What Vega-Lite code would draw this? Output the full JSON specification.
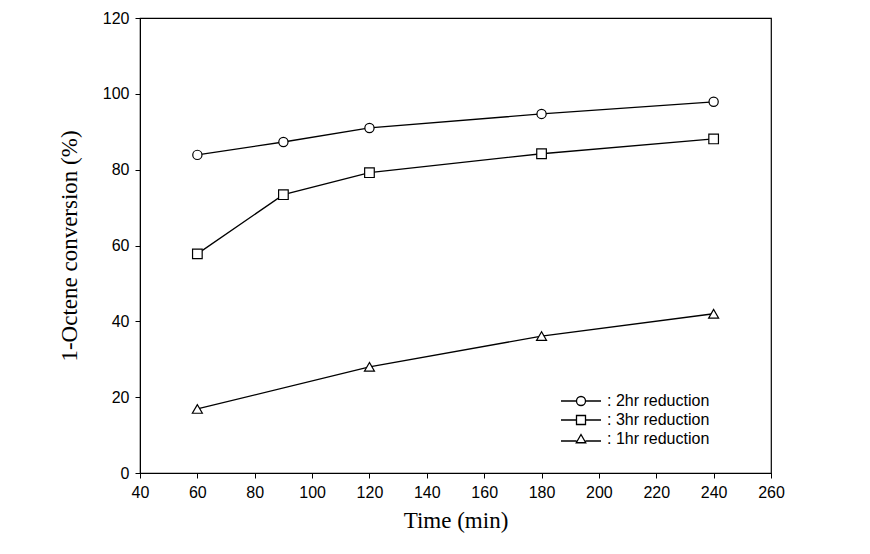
{
  "$schema": "https://vega.github.io/schema/vega-lite/v6.json",
  "width": 631,
  "height": 455,
  "autosize": {"type": "none"},
  "padding": {"left": 140, "top": 18, "right": 99, "bottom": 81},
  "background": "white",
  "config": {
    "view": {"stroke": "black", "strokeWidth": 1.2},
    "axis": {
      "domainColor": "black", "tickColor": "black", "labelColor": "black", "titleColor": "black",
      "labelFont": "Liberation Sans", "labelFontSize": 16, "grid": false, "tickSize": 5,
      "titleFont": "Liberation Serif", "titleFontSize": 23, "titleFontWeight": "normal"
    }
  },
  "data": {
    "values": [
      {"series": "2hr reduction", "time": 60, "conv": 83.9},
      {"series": "2hr reduction", "time": 90, "conv": 87.3},
      {"series": "2hr reduction", "time": 120, "conv": 91.0},
      {"series": "2hr reduction", "time": 180, "conv": 94.7},
      {"series": "2hr reduction", "time": 240, "conv": 97.9},
      {"series": "3hr reduction", "time": 60, "conv": 57.8},
      {"series": "3hr reduction", "time": 90, "conv": 73.4},
      {"series": "3hr reduction", "time": 120, "conv": 79.2},
      {"series": "3hr reduction", "time": 180, "conv": 84.2},
      {"series": "3hr reduction", "time": 240, "conv": 88.1},
      {"series": "1hr reduction", "time": 60, "conv": 16.9},
      {"series": "1hr reduction", "time": 120, "conv": 28.0},
      {"series": "1hr reduction", "time": 180, "conv": 36.1},
      {"series": "1hr reduction", "time": 240, "conv": 42.0}
    ]
  },
  "encoding": {
    "x": {"field": "time", "type": "quantitative",
      "scale": {"domain": [40, 260], "nice": false, "zero": false},
      "axis": {"values": [40,60,80,100,120,140,160,180,200,220,240,260], "title": "Time (min)", "labelPadding": 6, "titlePadding": 9, "labelFlush": false}},
    "y": {"field": "conv", "type": "quantitative",
      "scale": {"domain": [0, 120], "nice": false},
      "axis": {"values": [0,20,40,60,80,100,120], "title": "1-Octene conversion (%)", "labelPadding": 6, "titlePadding": 21}}
  },
  "layer": [
    {
      "mark": {"type": "line", "color": "black", "strokeWidth": 1.3},
      "encoding": {"detail": {"field": "series"}}
    },
    {
      "mark": {"type": "point", "filled": true, "fill": "white", "stroke": "black", "strokeWidth": 1.2, "opacity": 1},
      "encoding": {
        "shape": {"field": "series", "type": "nominal",
          "scale": {"domain": ["2hr reduction", "3hr reduction", "1hr reduction"], "range": ["circle", "square", "triangle-up"]},
          "legend": null},
        "size": {"field": "series", "type": "nominal",
          "scale": {"domain": ["2hr reduction", "3hr reduction", "1hr reduction"], "range": [85, 100, 90]},
          "legend": null}
      }
    },
    {
      "mark": {"type": "point", "filled": false, "stroke": "black", "size": 100},
      "encoding": {
        "opacity": {"value": 0},
        "shape": {"field": "series", "type": "nominal",
          "scale": {"domain": ["2hr reduction", "3hr reduction", "1hr reduction"],
            "range": [
              "M-4,0L-0.9,0M0.9,0L4,0M0.9,0A0.9,0.9,0,1,1,-0.9,0A0.9,0.9,0,1,1,0.9,0Z",
              "M-4,0L-0.9,0M0.9,0L4,0M-0.9,-0.9L0.9,-0.9L0.9,0.9L-0.9,0.9Z",
              "M-4,0.4L-0.9,0.4M0.9,0.4L4,0.4M0,-0.9L0.95,0.75L-0.95,0.75Z"
            ]},
          "legend": {
            "orient": "none", "legendX": 433, "legendY": 375, "title": null,
            "labelExpr": "': ' + datum.label",
            "symbolOpacity": 1, "symbolFillColor": "white", "symbolStrokeColor": "black", "symbolStrokeWidth": 1.3,
            "symbolSize": 100, "labelOffset": 18,
            "labelFont": "Liberation Sans", "labelFontSize": 16, "labelColor": "black",
            "rowPadding": 3
          }
        }
      }
    }
  ],
  "resolve": {"scale": {"shape": "independent", "size": "independent"}}
}
